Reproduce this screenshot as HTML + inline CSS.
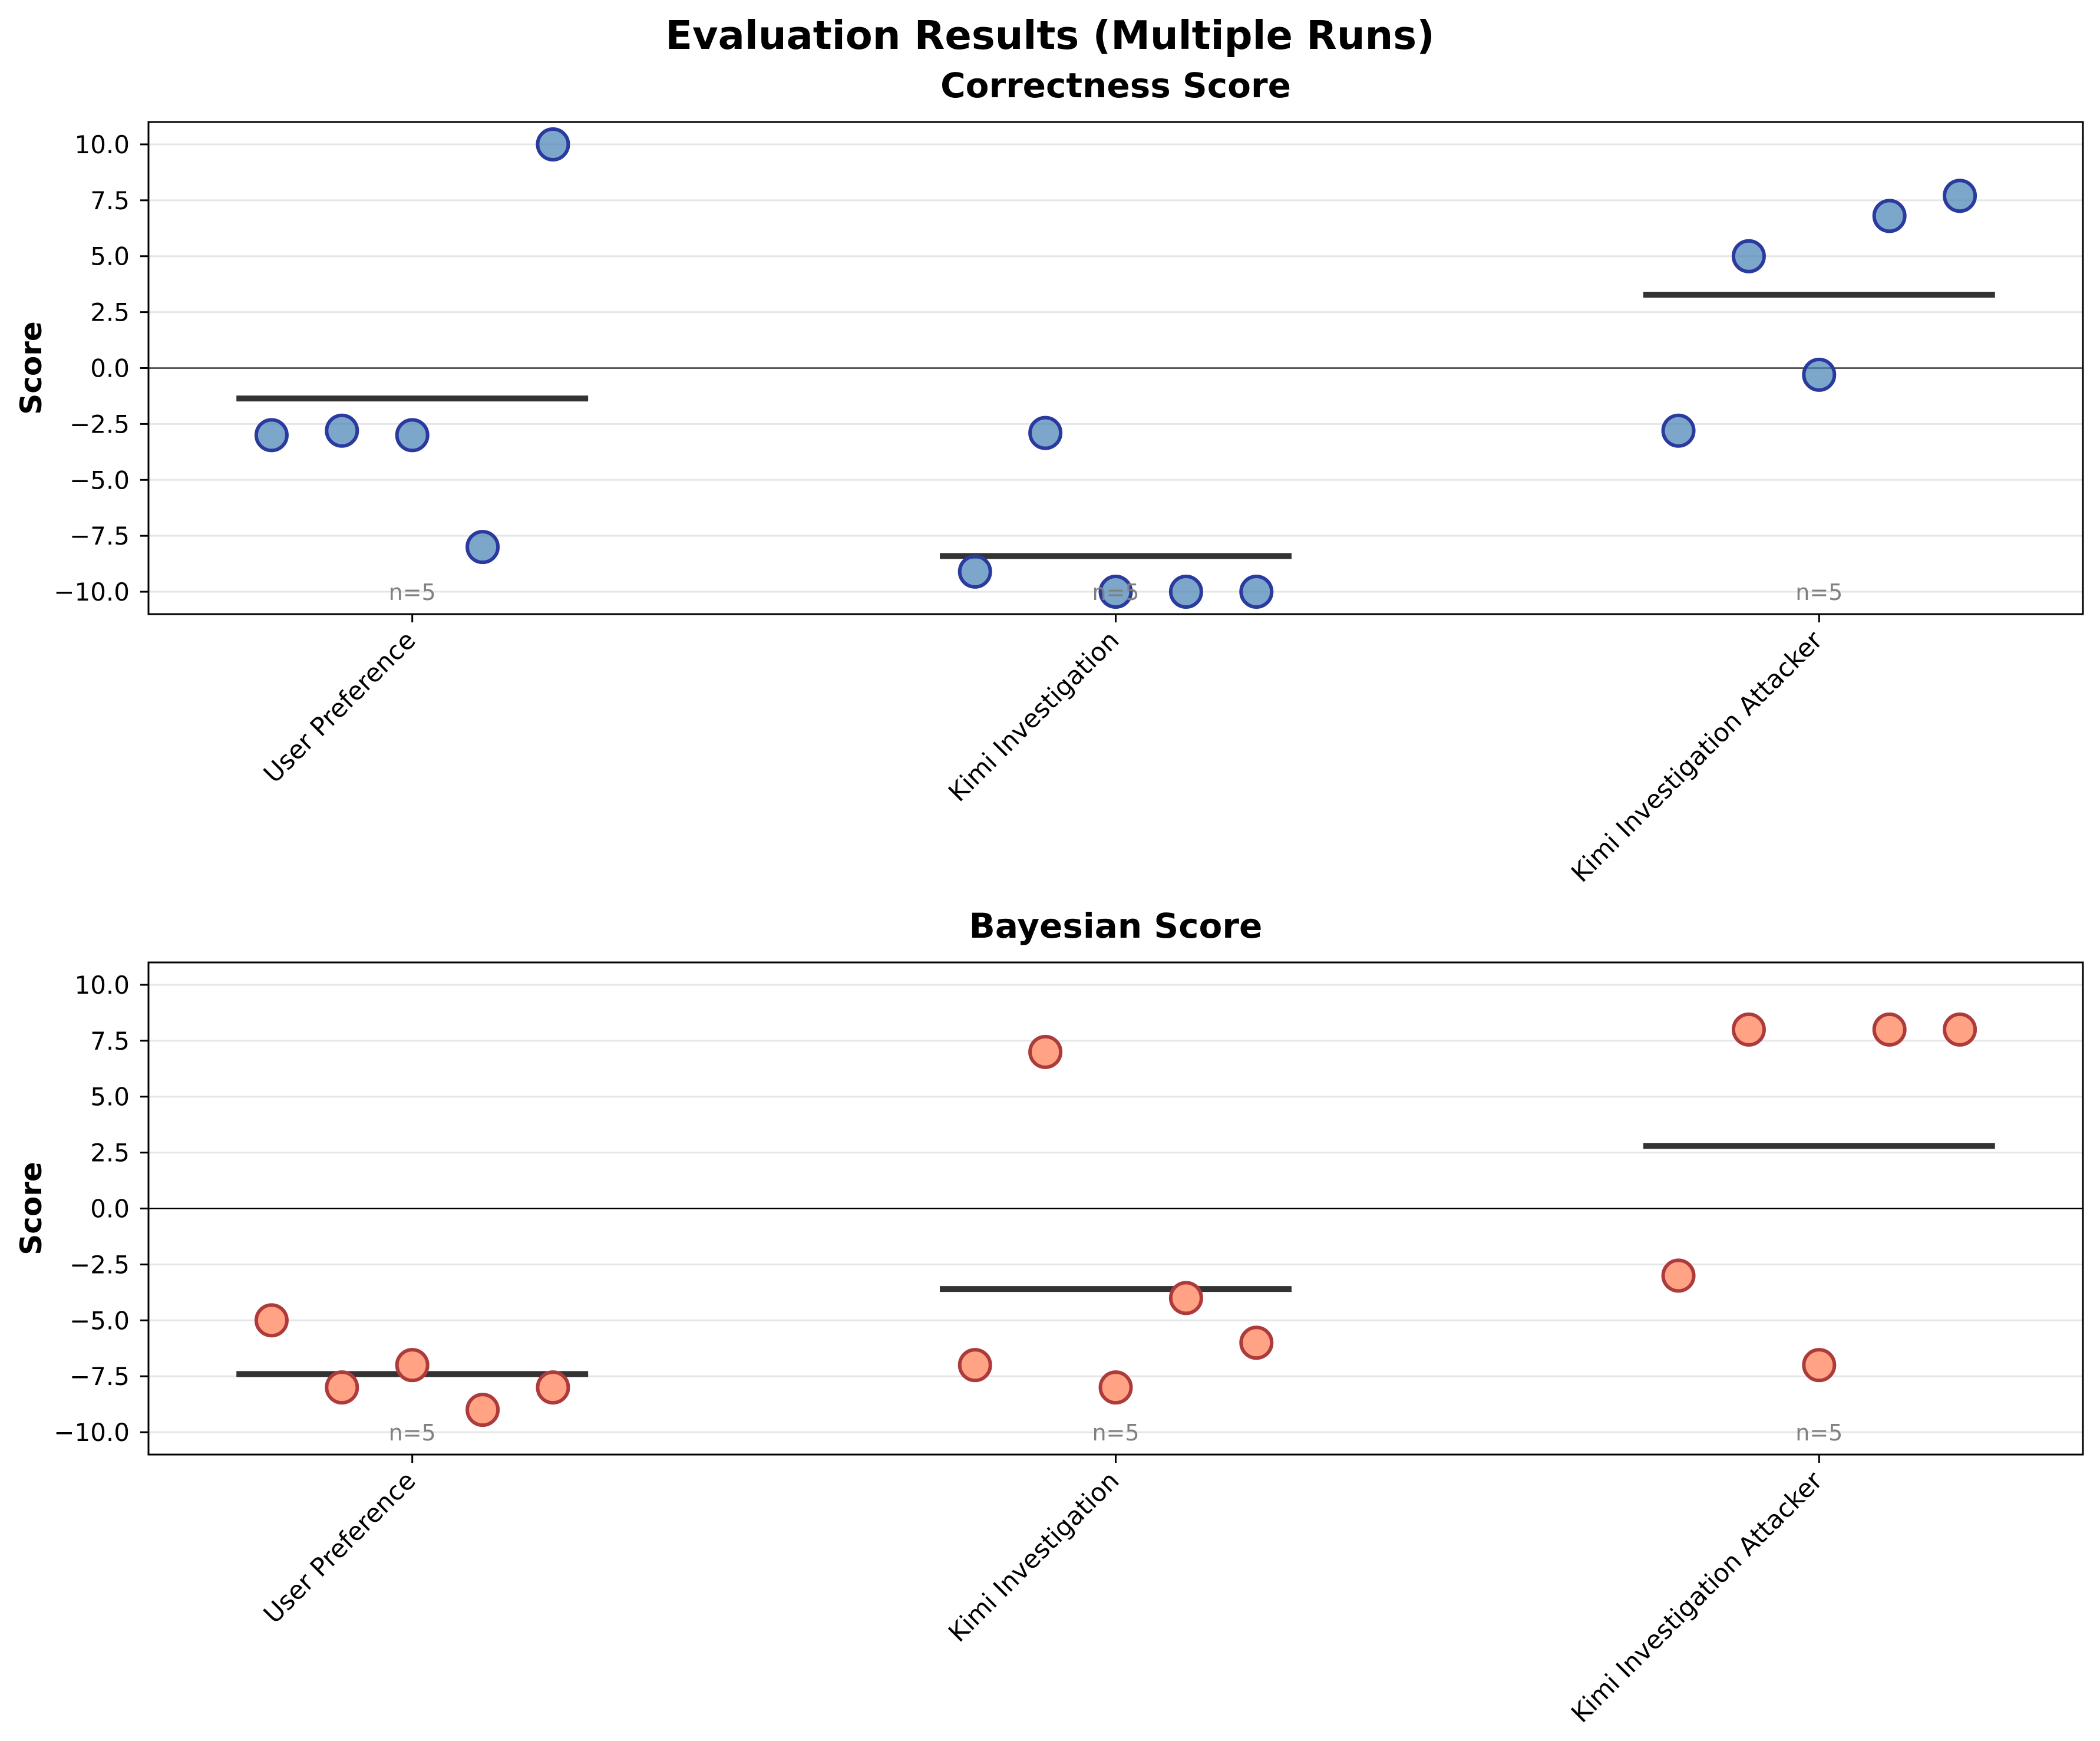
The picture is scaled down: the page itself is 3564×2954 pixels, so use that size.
<!DOCTYPE html>
<html><head><meta charset="utf-8"><style>
html,body{margin:0;padding:0;background:#fff;}
svg{display:block;font-family:"DejaVu Sans","Liberation Sans",sans-serif;}
</style></head><body>
<svg id="chart" width="3564" height="2954" viewBox="0 0 3564 2954" xmlns="http://www.w3.org/2000/svg">
<rect width="3564" height="2954" fill="#fff"/>
<text x="1782" y="83" font-size="67" font-weight="bold" text-anchor="middle">Evaluation Results (Multiple Runs)</text>
</svg>
<script>
const categories = ["User Preference", "Kimi Investigation", "Kimi Investigation Attacker"];
const correctnessValues = [[-3, -2.8, -3, -8, 10], [-9.1, -2.9, -10, -10, -10], [-2.8, 5, -0.3, 6.8, 7.7]];
const bayesianValues = [[-5, -8, -7, -9, -8], [-7, 7, -8, -4, -6], [-3, 8, -7, 8, 8]];
const yTicks = [-10, -7.5, -5, -2.5, 0, 2.5, 5, 7.5, 10];
const yTickLabels = ["\u221210.0", "\u22127.5", "\u22125.0", "\u22122.5", "0.0", "2.5", "5.0", "7.5", "10.0"];
const jitterOffsets = [-0.2, -0.1, 0, 0.1, 0.2];

const NS = "http://www.w3.org/2000/svg";
const svg = document.getElementById("chart");
function mk(tag, attrs, parent) {
  const e = document.createElementNS(NS, tag);
  for (const k in attrs) e.setAttribute(k, attrs[k]);
  (parent || svg).appendChild(e);
  return e;
}

function panel(name, title, values, top, fill, stroke) {
  const L = 252, R = 3535, T = top, B = top + 835;
  const g = mk("g", {});
  
  
  const xs = v => L + (v + 0.375) / 2.75 * (R - L);
  const ys = v => T + (11 - v) / 22 * (B - T);
  yTicks.forEach((t, i) => {
    const l = mk("line", {x1: L, x2: R, y1: ys(t), y2: ys(t), stroke: "#e6e6e6", "stroke-width": 3}, g);
    
    
    const tk = mk("line", {x1: L - 14, x2: L, y1: ys(t), y2: ys(t), stroke: "#000", "stroke-width": 3}, g);
    
    
    const tx = mk("text", {x: L - 32, y: ys(t) + 15, "font-size": 42, "text-anchor": "end"}, g);
    tx.textContent = yTickLabels[i];
    
    
  });
  const z = mk("line", {x1: L, x2: R, y1: ys(0), y2: ys(0), stroke: "#000", "stroke-width": 2}, g);
  
  
  categories.forEach((c, ci) => {
    const cx = xs(ci);
    const vals = values[ci];
    const mean = vals.reduce((a, b) => a + b, 0) / vals.length;
    const ml = mk("line", {x1: xs(ci - 0.25), x2: xs(ci + 0.25), y1: ys(mean), y2: ys(mean), stroke: "#333", "stroke-width": 10}, g);
    
    
    vals.forEach((v, j) => {
      const p = mk("circle", {cx: xs(ci + jitterOffsets[j]), cy: ys(v), r: 26, fill: fill, stroke: stroke, "stroke-width": 6}, g);
      
      
    });
    const n = mk("text", {x: cx, y: ys(-10) + 14, "font-size": 38, fill: "#808080", "text-anchor": "middle"}, g);
    n.textContent = "n=" + vals.length;
    
    
    const tk = mk("line", {x1: cx, x2: cx, y1: B, y2: B + 14, stroke: "#000", "stroke-width": 3}, g);
    
    
    const lx = cx + 8, ly = B + 47;
    const lab = mk("text", {x: lx, y: ly, "font-size": 43, "text-anchor": "end", transform: `rotate(-45 ${lx} ${ly})`}, g);
    lab.textContent = c;
    
    
  });
  const fr = mk("rect", {x: L, y: T, width: R - L, height: B - T, fill: "none", stroke: "#000", "stroke-width": 3}, g);
  
  
  const tt = mk("text", {x: (L + R) / 2, y: T - 42, "font-size": 58, "font-weight": "bold", "text-anchor": "middle"}, g);
  tt.textContent = title;
  
  
  const yl = mk("text", {x: 70, y: ys(0), "font-size": 50, "font-weight": "bold", "text-anchor": "middle", transform: `rotate(-90 70 ${ys(0)})`}, g);
  yl.textContent = "Score";
  
  
}
panel("correctness", "Correctness Score", correctnessValues, 207, "rgba(70,130,180,0.7)", "#2a3a9e");
panel("bayesian", "Bayesian Score", bayesianValues, 1633, "#ffa384", "#ae3b3b");
</script>
</body></html>
